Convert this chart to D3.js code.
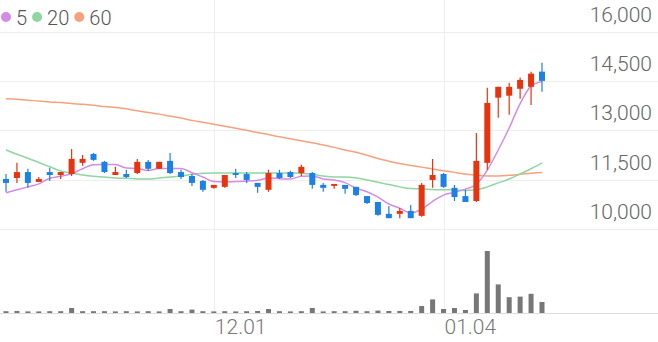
<!DOCTYPE html>
<html>
<head>
<meta charset="utf-8">
<script src="https://cdn.jsdelivr.net/npm/d3@7"></script>
<style>
  body { margin: 0; background: #fff; }
  svg { display: block; font-family: Roboto, "Noto Sans", sans-serif; }
</style>
</head>
<body>
<div id="chart"></div>
<script>
// daily candles, oldest first
var opens  = [11520,11550,11730,11430,11730,11640,11670,12010,12280,12040,11640,11670,11700,12040,11830,12070,11730,11610,11460,11250,11280,11700,11670,11400,11190,11700,11730,11700,11700,11340,11310,11340,11280,11000,10820,10460,10460,10550,10400,11490,11670,11250,11000,10850,12010,13990,14050,14260,14320,14780];
var highs  = [11670,12010,11830,11580,11860,11730,12430,12250,12310,12070,11890,11800,12130,12100,12040,12310,11800,11670,11490,11340,11640,11830,11730,11400,11800,11800,11770,11950,11730,11400,11370,11340,11280,11000,10820,10700,10640,10730,11400,12130,11700,11340,11190,12920,14290,14320,14440,14600,14780,15050];
var lows   = [11130,11400,11250,11430,11460,11520,11610,11920,12070,11700,11640,11550,11670,11760,11830,11670,11520,11310,11130,11220,11250,11550,11400,11100,11130,11520,11550,11610,11220,11130,11220,11070,11000,10760,10400,10330,10330,10330,10370,11250,11250,10850,10820,10820,11800,13380,13470,13960,13770,14170];
var closes = [11400,11730,11400,11520,11640,11730,12130,12130,12100,11730,11730,11580,12040,11830,12040,11700,11580,11400,11190,11340,11640,11640,11490,11280,11700,11550,11580,11890,11340,11250,11370,11220,11030,10790,10430,10330,10550,10330,11340,11640,11280,10970,10820,12070,13830,14320,14320,14530,14720,14500];
var volumes = [90,100,80,80,90,90,250,90,90,90,80,90,80,90,80,200,90,170,90,80,90,80,90,100,200,90,80,90,250,80,90,90,110,90,120,100,100,100,350,680,200,250,150,980,3100,1430,790,820,960,550];

// moving averages
var ma5  = [11100,11190,11280,11370,11540,11600,11680,11830,11950,11960,11960,11850,11840,11780,11840,11840,11840,11710,11580,11440,11430,11440,11460,11480,11550,11530,11520,11600,11610,11520,11490,11410,11240,11130,10970,10760,10630,10490,10600,10840,11030,11110,11210,11360,11790,12400,13070,13810,14340,14480];
var ma20 = [12400,12270,12150,12020,11890,11760,11700,11640,11600,11580,11550,11540,11520,11520,11550,11580,11610,11660,11690,11700,11700,11700,11700,11700,11700,11700,11700,11690,11660,11610,11580,11580,11550,11490,11420,11350,11280,11230,11220,11200,11190,11190,11170,11190,11280,11400,11520,11670,11830,12010];
var ma60 = [13960,13940,13910,13890,13860,13840,13810,13790,13760,13720,13690,13650,13590,13540,13490,13430,13370,13300,13240,13180,13120,13060,13000,12930,12870,12800,12740,12680,12620,12550,12480,12400,12330,12240,12140,12060,11990,11930,11880,11820,11770,11720,11670,11630,11610,11610,11630,11660,11690,11720];

var priceTicks = [10000, 11500, 13000, 14500, 16000];
var dateTickIdx = [19, 40];
var dateTickLabels = ["12.01", "01.04"];
var maNames = ["5", "20", "60"];
var maColors = ["#d58be6", "#8fd6a0", "#f5a27c"];

var w = 658, h = 342;
var up = "#e8330f", down = "#1b80e8";

var svg = d3.select("#chart").append("svg").attr("width", w).attr("height", h);

var idx = d3.range(closes.length);
var x = d3.scaleLinear().domain([0, closes.length - 1]).range([6, 542]);
var y = d3.scaleLinear().domain([10000, 16000]).range([229, 31.5]);
var yVol = d3.scaleLinear().domain([0, d3.max(volumes)]).range([313, 251]);

// horizontal grid
svg.selectAll("line.hgrid")
  .data(priceTicks)
  .enter()
  .append("line")
  .attr("class", "hgrid")
  .attr("x1", 0).attr("x2", w)
  .attr("y1", d => Math.round(y(d)) + 0.5)
  .attr("y2", d => Math.round(y(d)) + 0.5)
  .attr("stroke", "#eeeeee");

// vertical grid at month ticks
svg.selectAll("line.vgrid")
  .data(dateTickIdx)
  .enter()
  .append("line")
  .attr("class", "vgrid")
  .attr("x1", d => Math.round(x(d)) + 0.5)
  .attr("x2", d => Math.round(x(d)) + 0.5)
  .attr("y1", 0).attr("y2", yVol(0))
  .attr("stroke", "#eeeeee");

// volume baseline
svg.append("line")
  .attr("x1", 0).attr("x2", w)
  .attr("y1", yVol(0) + 0.5).attr("y2", yVol(0) + 0.5)
  .attr("stroke", "#dddddd");

// price labels
svg.selectAll("text.ylab")
  .data(priceTicks)
  .enter()
  .append("text")
  .attr("class", "ylab")
  .attr("x", 652)
  .attr("y", d => y(d) - 10)
  .attr("text-anchor", "end")
  .attr("font-size", 21)
  .attr("font-weight", 300)
  .attr("fill", "#666")
  .text(d => d3.format(",")(d));

// date labels
svg.selectAll("text.xlab")
  .data(dateTickIdx)
  .enter()
  .append("text")
  .attr("class", "xlab")
  .attr("x", d => x(d) + 1)
  .attr("y", 334)
  .attr("font-size", 21)
  .attr("font-weight", 300)
  .attr("fill", "#777")
  .text((d, i) => dateTickLabels[i]);

// volume bars
svg.selectAll("rect.vol")
  .data(idx)
  .enter()
  .append("rect")
  .attr("class", "vol")
  .attr("x", i => x(i) - 2.5)
  .attr("y", i => yVol(volumes[i]))
  .attr("width", 5)
  .attr("height", i => yVol(0) - yVol(volumes[i]))
  .attr("fill", "#777");

// moving average lines
var line = d3.line().curve(d3.curveMonotoneX);
[ma60, ma20, ma5].forEach((ma, k) => {
  svg.append("path")
    .attr("d", line(idx.map(i => [x(i), y(ma[i])])))
    .attr("fill", "none")
    .attr("stroke", maColors[2 - k])
    .attr("stroke-width", 1.5);
});

// candles
var candle = svg.selectAll("g.candle")
  .data(idx)
  .enter()
  .append("g")
  .attr("class", "candle");

candle.append("line")
  .attr("x1", i => x(i)).attr("x2", i => x(i))
  .attr("y1", i => y(highs[i])).attr("y2", i => y(lows[i]))
  .attr("stroke", i => closes[i] >= opens[i] ? up : down)
  .attr("stroke-width", 1.2);

candle.append("rect")
  .attr("x", i => x(i) - 3)
  .attr("y", i => y(Math.max(opens[i], closes[i])))
  .attr("width", 6)
  .attr("height", i => Math.max(1.5, Math.abs(y(opens[i]) - y(closes[i]))))
  .attr("fill", i => closes[i] >= opens[i] ? up : down);

// legend
var lx = 6;
maNames.forEach((name, k) => {
  svg.append("circle")
    .attr("cx", lx).attr("cy", 17).attr("r", 5)
    .attr("fill", maColors[k]);
  var t = svg.append("text")
    .attr("x", lx + 10).attr("y", 24.5)
    .attr("font-size", 20)
    .attr("font-weight", 300)
    .attr("fill", "#555")
    .text(name);
  lx += 10 + t.node().getComputedTextLength() + 10;
});
</script>
</body>
</html>
